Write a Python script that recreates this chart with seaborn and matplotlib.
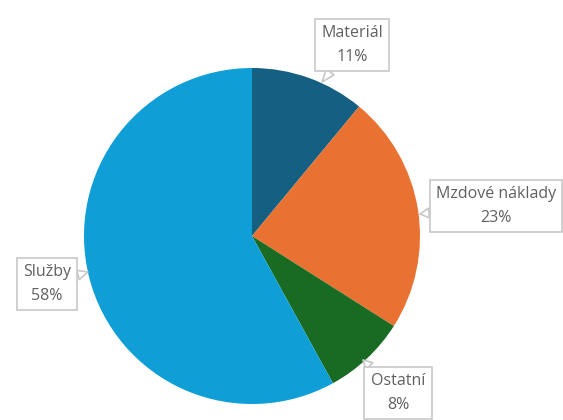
import matplotlib
matplotlib.use("Agg")
import matplotlib.pyplot as plt
import seaborn as sns

categories = ["Materiál", "Mzdové náklady", "Ostatní", "Služby"]
values = [11, 23, 8, 58]
colors = ["#156082", "#E97132", "#196B24", "#0F9ED5"]

sns.set_theme(style="white")
plt.rcParams['font.family'] = ['Open Sans', 'DejaVu Sans']

W, H = 563, 420
fig = plt.figure(figsize=(W / 100, H / 100), dpi=100)
cx, cy, r = 252, 236, 168
ax = fig.add_axes([(cx - r) / W, (H - cy - r) / H, 2 * r / W, 2 * r / H])
ax.pie(values, colors=colors, startangle=90, counterclock=False, radius=1,
       wedgeprops=dict(linewidth=0))
ax.set_xlim(-1, 1)
ax.set_ylim(-1, 1)
ax.set_aspect("equal")
ax.axis("off")

def px(x, y):
    return ((x - cx) / r, (cy - y) / r)

label_pos = [px(352, 45), px(496, 206), px(398, 393), px(47, 284)]
tips = [px(322, 82), px(420, 214), px(363, 360), px(88, 272)]

for cat, v, pos, tip in zip(categories, values, label_pos, tips):
    ax.annotate(f"{cat}\n{v}%", xy=tip, xytext=pos, ha="center", va="center",
                fontsize=11.5, color="#606060", linespacing=1.65,
                bbox=dict(boxstyle="square,pad=0.4", fc="white", ec="#c8c8c8", lw=1.2),
                arrowprops=dict(arrowstyle="wedge,tail_width=0.6", fc="white",
                                ec="#c8c8c8", lw=1.2, shrinkA=0, shrinkB=0),
                annotation_clip=False)

fig.savefig("out.png", dpi=100)
